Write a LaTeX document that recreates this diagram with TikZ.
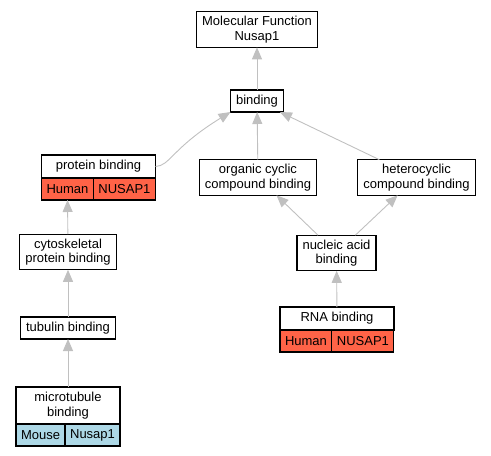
\documentclass[tikz,border=0pt]{standalone}
\usepackage{fontspec}
\setmainfont{Liberation Sans}
\usetikzlibrary{arrows.meta}
\usetikzlibrary{positioning}
\definecolor{humanred}{HTML}{FF6347}
\definecolor{mouseblue}{HTML}{ADD8E6}
\definecolor{edgegray}{HTML}{C0C0C0}

\begin{document}
\begin{tikzpicture}[x=1pt, y=-1pt, align=center, font=\fontsize{13}{14.5}\selectfont]

\tikzstyle{term} = [rectangle, minimum height=22pt, inner xsep=5.5pt, inner ysep=4.5pt, text centered, draw=black, line width=1.1pt, outer sep=0pt, fill=white]
\tikzstyle{head} = [term, minimum height=23pt]
\tikzstyle{human} = [term, fill=humanred, inner xsep=5pt]
\tikzstyle{mouse} = [term, fill=mouseblue, inner xsep=5pt]
\tikzstyle{arrow} = [draw=edgegray, line width=0.9pt, -{Triangle[length=12pt, width=10pt]}]

\useasboundingbox (0,0) rectangle (491,456);

\node (molfunc) [term] at (257,29.5) {Molecular Function\\Nusap1};
\node (binding) [term] at (257,101) {binding};
\node (protbind) [head, minimum width=114pt] at (98.5,166.5) {protein binding};
\node (protbindsp) [human, minimum width=51pt, below=0pt of protbind.south west, anchor=north west] {Human};
\node (protbindgene) [human, minimum width=62pt, right=0pt of protbindsp] {NUSAP1};
\node (orgcyc) [term] at (258,177.5) {organic cyclic\\compound binding};
\node (hetcyc) [term] at (416.5,177.5) {heterocyclic\\compound binding};
\node (cytoprot) [term] at (68,252) {cytoskeletal\\protein binding};
\node (nucacid) [term] at (336.5,253) {nucleic acid\\binding};
\node (tubulin) [term] at (68,328) {tubulin binding};
\node (rnabind) [head, minimum width=114pt] at (337,318.5) {RNA binding};
\node (rnabindsp) [human, minimum width=51pt, below=0pt of rnabind.south west, anchor=north west] {Human};
\node (rnabindgene) [human, minimum width=62pt, right=0pt of rnabindsp] {NUSAP1};
\node (microtub) [term, minimum width=104pt, minimum height=37pt] at (68,405.5) {microtubule\\binding};
\node (microtubsp) [mouse, minimum width=49pt, below=0pt of microtub.south west, anchor=north west] {Mouse};
\node (microtubgene) [mouse, minimum width=55pt, right=0pt of microtubsp] {Nusap1};

\draw [arrow] (binding) -- (molfunc);
\draw [arrow] (protbind.east) .. controls (170,166) and (172,148) .. (binding.south west);
\draw [arrow] (orgcyc) -- (binding);
\draw [arrow] (hetcyc) -- (binding);
\draw [arrow] (nucacid) -- (orgcyc);
\draw [arrow] (nucacid) -- (hetcyc);
\draw [arrow] (rnabind) -- (nucacid);
\draw [arrow] (cytoprot) -- (protbindsp);
\draw [arrow] (tubulin) -- (cytoprot);
\draw [arrow] (microtub) -- (tubulin);
\end{tikzpicture}
\end{document}
